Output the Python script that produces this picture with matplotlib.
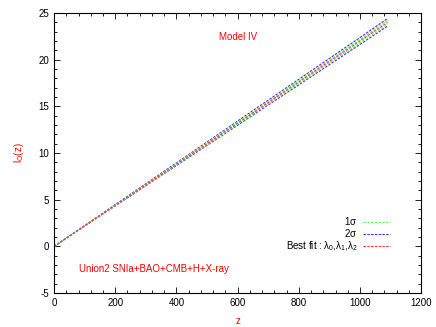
import matplotlib
matplotlib.use("Agg")
import matplotlib.pyplot as plt
from matplotlib.ticker import MultipleLocator

plt.rcParams["font.family"] = ["Liberation Sans", "DejaVu Sans"]
plt.rcParams["mathtext.fontset"] = "custom"
plt.rcParams["mathtext.rm"] = "Liberation Sans"
plt.rcParams["mathtext.it"] = "Liberation Sans"
plt.rcParams["axes.unicode_minus"] = False

# z grid and l_O(z) curves
z = [0, 200, 400, 600, 800, 1000, 1090]
best_fit = [0.0, 4.40, 8.80, 13.20, 17.61, 22.02, 24.00]
sigma1_up = [0.0, 4.44, 8.88, 13.31, 17.75, 22.19, 24.20]
sigma1_lo = [0.0, 4.37, 8.73, 13.10, 17.46, 21.83, 23.80]
sigma2_up = [0.0, 4.48, 8.95, 13.43, 17.90, 22.38, 24.42]
sigma2_lo = [0.0, 4.33, 8.66, 12.98, 17.31, 21.64, 23.60]

fig = plt.figure(figsize=(4.36, 3.27), dpi=100)
ax = fig.add_axes([0.124, 0.104, 0.842, 0.856])

dash = (0, (2.2, 1.2))
ax.plot(z, sigma2_up, color="#3333ff", lw=0.8, ls=dash, label=r"2$\sigma$")
ax.plot(z, sigma2_lo, color="#3333ff", lw=0.8, ls=dash)
ax.plot(z, sigma1_up, color="#66ee66", lw=0.8, ls=dash, label=r"1$\sigma$")
ax.plot(z, sigma1_lo, color="#66ee66", lw=0.8, ls=dash)
ax.plot(z, best_fit, color="#ff3333", lw=0.8, ls=dash,
        label=r"Best fit : $\lambda_0$,$\lambda_1$,$\lambda_2$")

ax.set_xlim(0, 1200)
ax.set_ylim(-5, 25)
ax.xaxis.set_major_locator(MultipleLocator(200))
ax.xaxis.set_minor_locator(MultipleLocator(40))
ax.yaxis.set_major_locator(MultipleLocator(5))
ax.yaxis.set_minor_locator(MultipleLocator(1))
ax.tick_params(which="both", direction="in", top=True, right=True, labelsize=7, width=0.6)
ax.tick_params(which="major", length=4)
ax.tick_params(which="minor", length=2)
for s in ax.spines.values():
    s.set_linewidth(0.8)

ax.set_xlabel("z", color="red", fontsize=7, labelpad=6)
ax.set_ylabel(r"l$_\mathrm{O}$(z)", color="red", fontsize=7, labelpad=9)

ax.text(0.5, 0.905, "Model IV", color="red", fontsize=7, ha="center", transform=ax.transAxes)
ax.text(0.068, 0.075, "Union2 SNIa+BAO+CMB+H+X-ray", color="red", fontsize=7,
        transform=ax.transAxes)

h, l = ax.get_legend_handles_labels()
order = [1, 0, 2]
ax.legend([h[i] for i in order], [l[i] for i in order], loc="upper right",
          bbox_to_anchor=(0.916, 0.278), frameon=False, markerfirst=False,
          fontsize=7, handlelength=2.8, labelspacing=0.0, handletextpad=0.6,
          borderaxespad=0, borderpad=0)

fig.savefig("out.png", dpi=100)
